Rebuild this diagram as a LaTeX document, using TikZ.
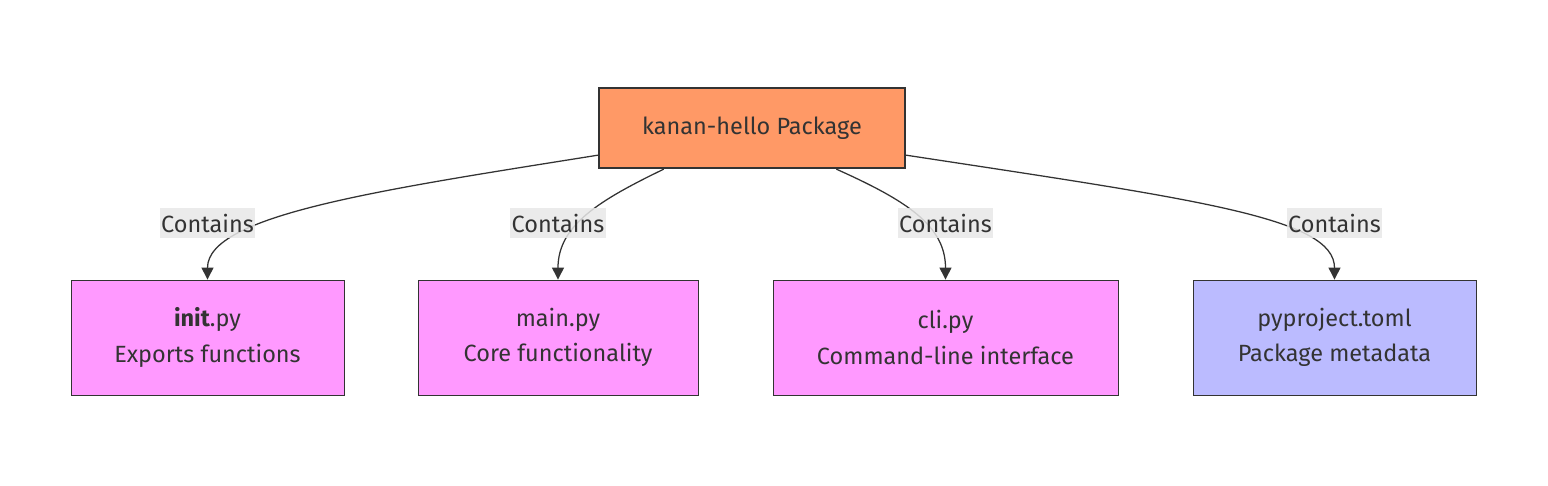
\documentclass[tikz,border=0pt]{standalone}
\usepackage{fontspec}
\setmainfont{Fira Sans}
\usetikzlibrary{arrows.meta}

\definecolor{pkgfill}{HTML}{FF9966}
\definecolor{filefill}{HTML}{FF99FF}
\definecolor{metafill}{HTML}{BBBBFF}
\definecolor{ink}{HTML}{333333}
\definecolor{lblfill}{HTML}{E8E8E8}

\tikzset{
    pkgbox/.style={draw=ink,line width=1.6pt,fill=pkgfill,text=ink,minimum width=7.65cm,minimum height=2cm,font=\fontsize{16.7}{20}\selectfont},
    filebox/.style={draw=ink,line width=0.6pt,fill=filefill,text=ink,minimum height=2.875cm,align=center,font=\fontsize{16.7}{25}\selectfont},
    edgelabel/.style={fill=lblfill,fill opacity=0.85,text opacity=1,text=ink,inner xsep=1pt,inner ysep=0.15cm,font=\fontsize{16.7}{20}\selectfont},
    contains/.style={draw=ink,line width=0.9pt,-{Triangle[width=0.3cm,length=0.3cm]}}
}

\begin{document}
\begin{tikzpicture}[x=0.025cm,y=-0.025cm]
    \useasboundingbox (0,0) rectangle (1548,486);
    \node[pkgbox] (pkg) at (752,128) {\raisebox{-1pt}{kanan-hello Package}};
    \node[filebox,minimum width=6.825cm] (init) at (207.5,337.5) {\textbf{init}.py\\Exports functions};
    \node[filebox,minimum width=7cm] (main) at (558,337.5) {main.py\\Core functionality};
    \node[filebox,minimum width=8.625cm] (cli) at (945.5,337.5) {cli.py\\Command-line interface};
    \node[filebox,fill=metafill,minimum width=7.075cm] (meta) at (1334.5,337.5) {pyproject.toml\\Package metadata};
    % edges from the package down to each file
    \draw[contains] (pkg.190) .. controls (380,190) and (207.5,215) .. (init.north);
    \draw[contains] (pkg.205) .. controls (600,200) and (558,225) .. (main.north);
    \draw[contains] (pkg.334) .. controls (905,200) and (945.5,225) .. (cli.north);
    \draw[contains] (pkg.350) .. controls (1200,200) and (1334.5,218) .. (meta.north);
    \node[edgelabel] (l1) at (207.5,223) {Contains};
    \node[edgelabel] (l2) at (558,223) {Contains};
    \node[edgelabel] (l3) at (945.5,223) {Contains};
    \node[edgelabel] (l4) at (1334.5,223) {Contains};
\end{tikzpicture}
\end{document}
